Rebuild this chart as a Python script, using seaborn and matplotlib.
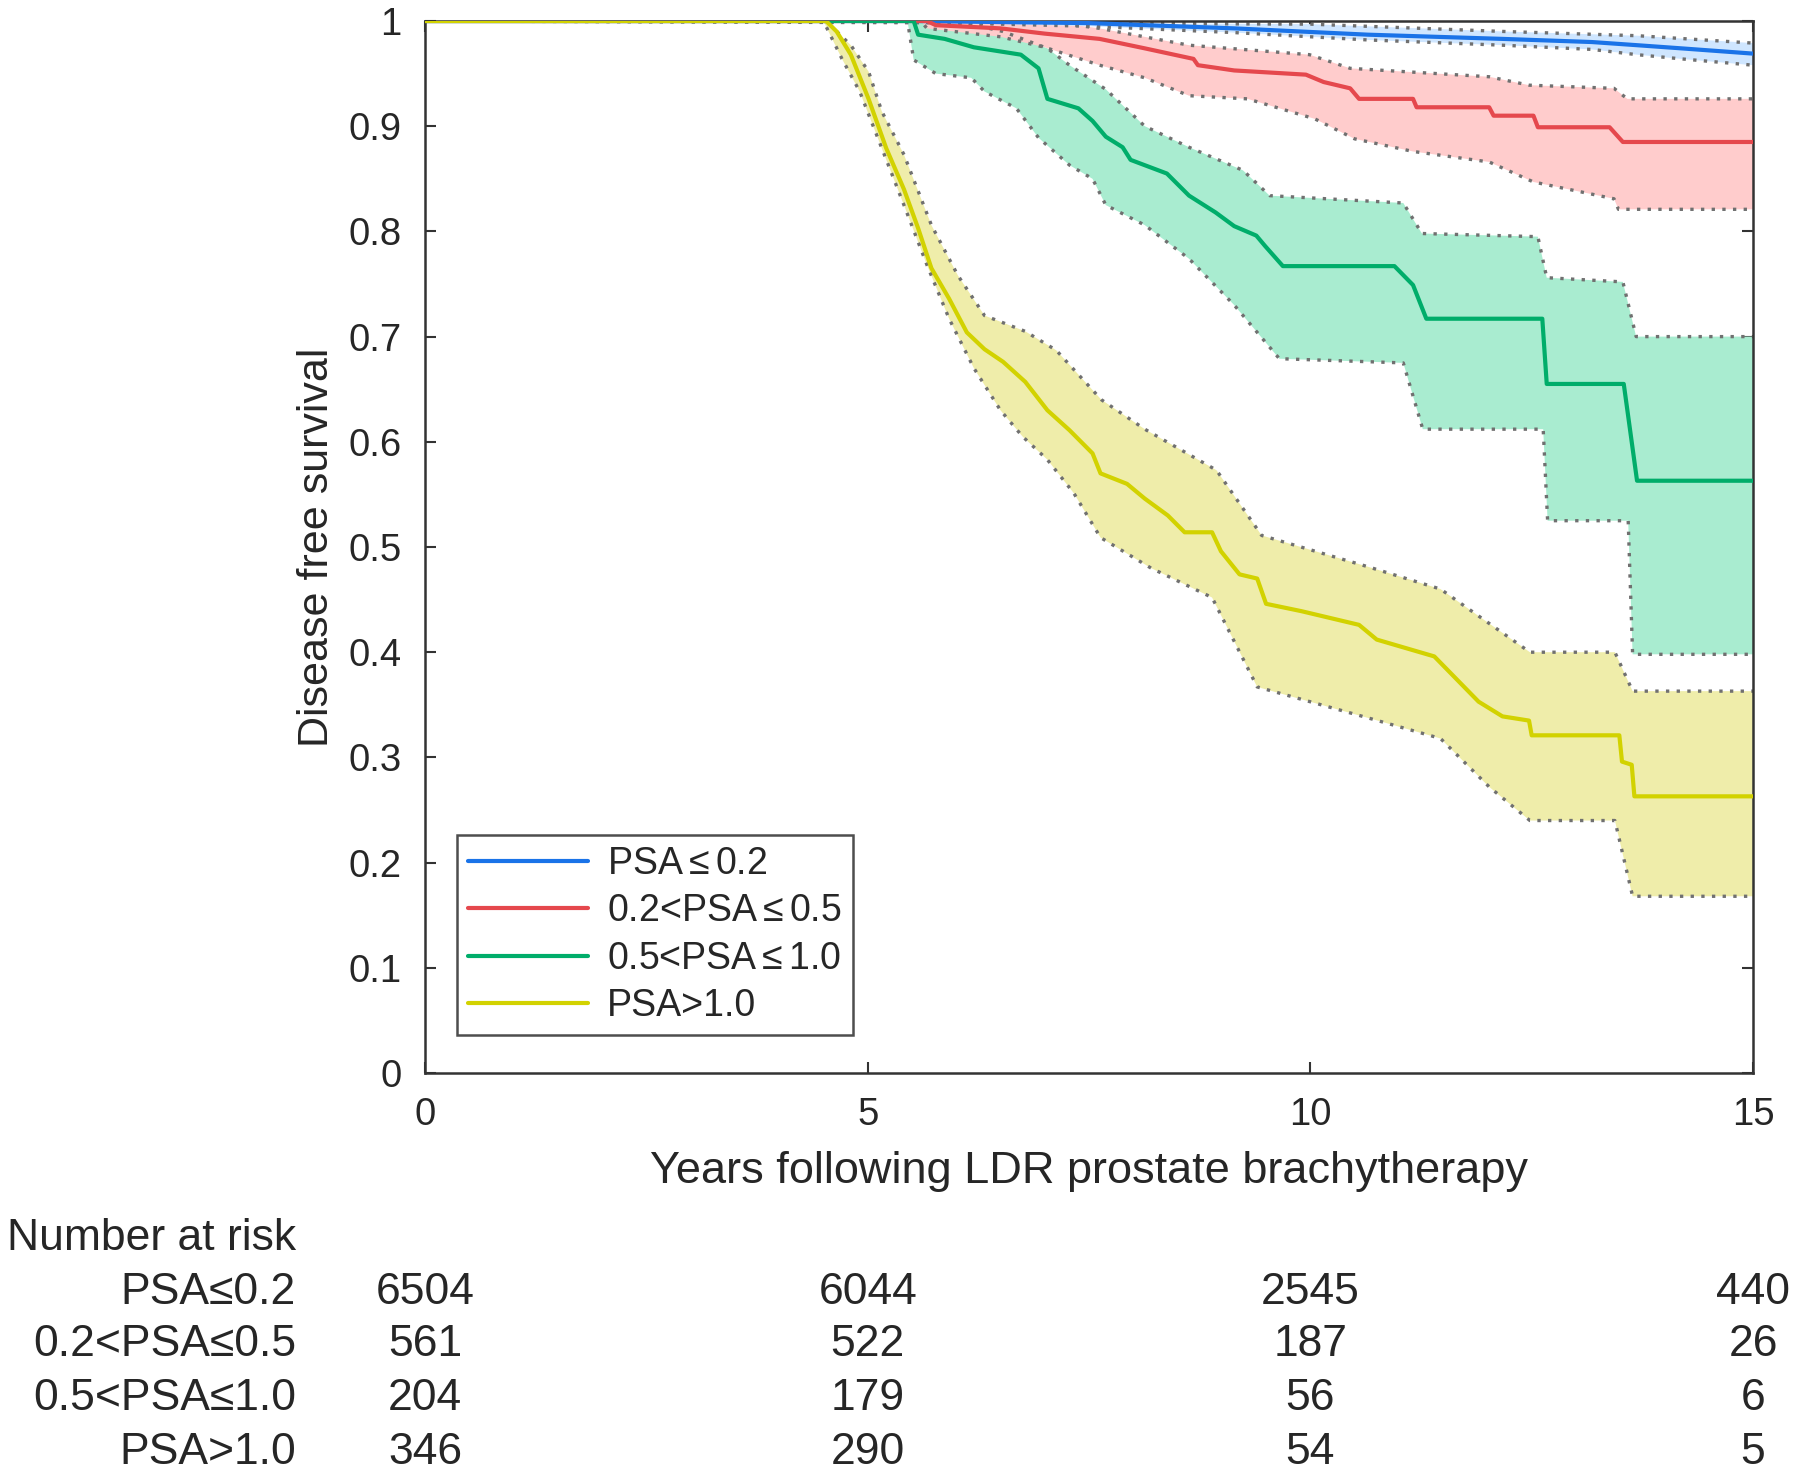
import numpy as np
import pandas as pd
import matplotlib
matplotlib.use("Agg")
import matplotlib.pyplot as plt
import matplotlib.transforms as mtransforms
import seaborn as sns

# ---------------- data ----------------
groups = ["PSA≤0.2", "0.2<PSA≤0.5", "0.5<PSA≤1.0", "PSA>1.0"]
legend_labels = ["PSA$\\leq$0.2", "0.2<PSA$\\leq$0.5", "0.5<PSA$\\leq$1.0", "PSA>1.0"]

# PSA<=0.2
blue_t = [0, 5.5, 7.5, 9.14, 10.65, 12.17, 13.18, 13.69, 14.19, 15]
blue_s = [1, 1, 0.998, 0.993, 0.987, 0.983, 0.98, 0.977, 0.974, 0.969]
blue_up_t = [0, 10, 12.2, 13.7, 15]
blue_up_s = [1, 0.997, 0.99, 0.986, 0.979]
blue_lo_t = [0, 5.5, 7.5, 9.14, 10.65, 12.17, 13.18, 13.69, 14.19, 15]
blue_lo_s = [1, 0.999, 0.995, 0.989, 0.982, 0.977, 0.973, 0.968, 0.964, 0.958]

# 0.2<PSA<=0.5
red_t = [0, 5.67, 5.77, 6.5, 7.0, 7.62, 8.13, 8.68, 8.73, 9.14, 9.95, 10.15, 10.45, 10.55,
         11.16, 11.2, 12.02, 12.07, 12.52, 12.57, 13.38, 13.53, 15]
red_s = [1, 1, 0.996, 0.993, 0.988, 0.983, 0.974, 0.964, 0.958, 0.953, 0.949, 0.942, 0.936, 0.926,
         0.926, 0.918, 0.918, 0.91, 0.91, 0.899, 0.899, 0.885, 0.885]
red_up_t = [0, 7.0, 7.62, 8.63, 9.99, 10.45, 12.02, 12.47, 13.43, 13.58, 15]
red_up_s = [1, 1, 0.993, 0.977, 0.968, 0.955, 0.947, 0.939, 0.936, 0.926, 0.926]
red_lo_t = [0, 5.6, 5.67, 6.5, 7.0, 7.62, 8.13, 8.63, 9.29, 10.05, 10.5, 11.16, 12.02, 12.52, 13.43,
            13.48, 15]
red_lo_s = [1, 1, 0.993, 0.985, 0.975, 0.958, 0.946, 0.929, 0.926, 0.907, 0.888, 0.876, 0.866,
            0.847, 0.831, 0.821, 0.821]

# 0.5<PSA<=1.0
green_t = [0, 5.52, 5.57, 5.87, 6.2, 6.73, 6.93, 7.03, 7.38, 7.54, 7.69, 7.88, 7.97, 8.38, 8.63,
           8.93, 9.14, 9.39, 9.49, 9.69, 10.95, 11.16, 11.31, 12.62, 12.67, 13.54, 13.69, 15]
green_s = [1, 1, 0.987, 0.983, 0.975, 0.968, 0.955, 0.926, 0.917, 0.905, 0.89, 0.88, 0.868, 0.855,
           0.834, 0.818, 0.805, 0.796, 0.786, 0.767, 0.767, 0.749, 0.717, 0.717, 0.655, 0.655, 0.563, 0.563]
green_up_t = [0, 6.0, 6.53, 7.03, 7.28, 7.69, 8.13, 8.63, 9.24, 9.54, 11.05, 11.26, 12.57, 12.67,
              13.53, 13.68, 15]
green_up_s = [1, 1, 0.99, 0.974, 0.958, 0.935, 0.9, 0.88, 0.858, 0.834, 0.827, 0.798, 0.795, 0.756,
              0.752, 0.70, 0.70]
green_lo_t = [0, 5.45, 5.52, 5.77, 6.17, 6.32, 6.68, 6.93, 7.28, 7.54, 7.69, 8.13, 8.63, 9.14, 9.54,
              9.65, 11.05, 11.27, 12.63, 12.68, 13.59, 13.64, 15]
green_lo_s = [1, 1, 0.963, 0.95, 0.946, 0.933, 0.917, 0.889, 0.863, 0.85, 0.825, 0.806, 0.774, 0.73,
              0.69, 0.679, 0.675, 0.612, 0.612, 0.525, 0.525, 0.398, 0.398]

# PSA>1.0
yellow_t = [0, 4.53, 4.65, 4.81, 5.01, 5.21, 5.41, 5.57, 5.72, 5.92, 6.12, 6.32, 6.53, 6.78, 7.03,
            7.28, 7.54, 7.63, 7.93, 8.13, 8.39, 8.58, 8.89, 8.99, 9.2, 9.4, 9.5, 9.9, 10.55, 10.75,
            11.4, 11.9, 12.17, 12.47, 12.5, 13.49, 13.52, 13.63, 13.66, 15]
yellow_s = [1, 1, 0.99, 0.968, 0.926, 0.879, 0.84, 0.803, 0.765, 0.736, 0.704, 0.688, 0.676, 0.657,
            0.63, 0.611, 0.589, 0.57, 0.56, 0.546, 0.53, 0.514, 0.514, 0.496, 0.474, 0.47, 0.446,
            0.439, 0.426, 0.412, 0.396, 0.353, 0.339, 0.335, 0.321, 0.321, 0.296, 0.293, 0.263, 0.263]
yellow_up_t = [0, 4.53, 4.81, 5.01, 5.16, 5.41, 5.72, 6.02, 6.32, 6.78, 7.13, 7.64, 8.13, 8.94,
               9.45, 10.66, 11.47, 12.48, 13.44, 13.64, 15]
yellow_up_s = [1, 1, 0.977, 0.952, 0.914, 0.873, 0.806, 0.758, 0.72, 0.705, 0.687, 0.64, 0.612,
               0.573, 0.511, 0.481, 0.46, 0.40, 0.40, 0.363, 0.363]
yellow_lo_t = [0, 4.5, 4.71, 4.91, 5.16, 5.41, 5.67, 5.92, 6.2, 6.5, 6.75, 7.03, 7.33, 7.63, 8.2,
               8.89, 9.4, 10.76, 11.47, 12.02, 12.48, 13.44, 13.64, 15]
yellow_lo_s = [1, 1, 0.964, 0.933, 0.879, 0.825, 0.768, 0.717, 0.67, 0.63, 0.605, 0.583, 0.551,
               0.509, 0.48, 0.452, 0.367, 0.335, 0.318, 0.272, 0.24, 0.24, 0.168, 0.168]

risk_times = [0, 5, 10, 15]
risk_blue = [6504, 6044, 2545, 440]
risk_red = [561, 522, 187, 26]
risk_green = [204, 179, 56, 6]
risk_yellow = [346, 290, 54, 5]

# ---------------- style ----------------
line_colors = ["#1A73E8", "#E5484D", "#00AD6A", "#D2D200"]
fill_colors = ["#CFE6FF", "#FFCCCC", "#A9ECD0", "#EFEDAA"]

sns.set_theme(style="ticks")
plt.rcParams["font.family"] = ["Liberation Sans", "DejaVu Sans"]
plt.rcParams["mathtext.fontset"] = "custom"
plt.rcParams["mathtext.rm"] = "Liberation Sans"
plt.rcParams["mathtext.it"] = "Liberation Sans"

fig = plt.figure(figsize=(18, 14.79), dpi=100)
ax = fig.add_axes([0.2361, 0.2745, 0.7378, 0.7113])

curves = [
    (blue_t, blue_s, blue_up_t, blue_up_s, blue_lo_t, blue_lo_s),
    (red_t, red_s, red_up_t, red_up_s, red_lo_t, red_lo_s),
    (green_t, green_s, green_up_t, green_up_s, green_lo_t, green_lo_s),
    (yellow_t, yellow_s, yellow_up_t, yellow_up_s, yellow_lo_t, yellow_lo_s),
]

# confidence bands (fill), drawn from the bottom curve upward
for i in [3, 2, 1, 0]:
    _, _, ut, us, lt, ls_ = curves[i]
    ax.fill(np.r_[ut, lt[::-1]], np.r_[us, ls_[::-1]], color=fill_colors[i], lw=0, zorder=1)
for i in [3, 2, 1, 0]:
    _, _, ut, us, lt, ls_ = curves[i]
    for tt, ss in ((ut, us), (lt, ls_)):
        ax.plot(tt, ss, color="#707070", lw=2.4, ls=(0, (1, 2.2)), zorder=2)

rows = []
for g, (t, s, *_r) in zip(groups, curves):
    for k, (tt, ss) in enumerate(zip(t, s)):
        rows.append({"group": g, "time": tt, "surv": ss, "order": k})
df = pd.DataFrame(rows)
palette = dict(zip(groups, line_colors))
sns.lineplot(data=df, x="time", y="surv", hue="group", hue_order=groups, palette=palette,
             estimator=None, sort=False, lw=3, ax=ax, zorder=3)

ax.set_xlim(0, 15)
ax.set_ylim(0, 1)
ax.set_xticks([0, 5, 10, 15])
ax.set_yticks(np.arange(0, 1.01, 0.1))
ax.set_yticklabels(["0", "0.1", "0.2", "0.3", "0.4", "0.5", "0.6", "0.7", "0.8", "0.9", "1"])
ax.tick_params(direction="in", top=True, right=True, length=8, width=1.5,
               labelsize=27.5, pad=17, color="#333333")
for sp in ax.spines.values():
    sp.set_visible(True)
    sp.set_linewidth(1.8)
    sp.set_color("#333333")

ax.set_xlabel("Years following LDR prostate brachytherapy", fontsize=32.5)
ax.set_ylabel("Disease free survival", fontsize=31)
ax.xaxis.set_label_coords(0.5, -0.074)
ax.yaxis.set_label_coords(-0.066, 0.5)

handles, _ = ax.get_legend_handles_labels()
leg = ax.legend(handles[:4], legend_labels, loc="lower left", bbox_to_anchor=(0.024, 0.036),
                fontsize=27, frameon=True, fancybox=False, edgecolor="#222222",
                handlelength=3.2, labelspacing=0.3, borderpad=0.3, handletextpad=0.5,
                borderaxespad=0)
leg.get_frame().set_linewidth(1.8)
for h in leg.get_lines():
    h.set_linewidth(3)

# number at risk table
trans = mtransforms.blended_transform_factory(ax.transData, fig.transFigure)
label_x = 0.1644
row_y = [1 - 1293 / 1479, 1 - 1345 / 1479, 1 - 1399 / 1479, 1 - 1452 / 1479]
fig.text(label_x, 1 - 1238 / 1479, "Number at risk", ha="right", va="center", fontsize=32)
for g, counts, y in zip(groups, [risk_blue, risk_red, risk_green, risk_yellow], row_y):
    fig.text(label_x, y, g, ha="right", va="center", fontsize=32)
    for tx, c in zip(risk_times, counts):
        ax.text(tx, y, str(c), transform=trans, ha="center", va="center", fontsize=32, clip_on=False)

fig.savefig("out.png", dpi=100)
